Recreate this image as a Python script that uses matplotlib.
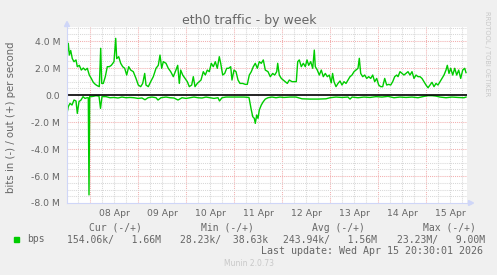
import matplotlib
matplotlib.use("Agg")
import matplotlib.pyplot as plt
from matplotlib.lines import Line2D
from matplotlib.patches import Rectangle, Polygon

# hours since 08 Apr 00:00, values in Mbit/s
out_hours = [-11.5, -10.85, -10.35, -9.65, -8.85, -8, -7, -6.35, -5.35, -4.35, -3.35, -2.35,
             -1.35, -0.35, 0.65, 1.65, 2.65, 3.65, 4.65, 5.35, 5.85, 6.65, 7.65, 8.65, 9.65,
             10.65, 12, 12.85, 13.35, 14.35, 15.35, 16.35, 17.35, 18.35, 19.35, 20.35, 21.65,
             23, 24.15, 25.35, 26.35, 27.35, 28, 29.15, 30.35, 31.65, 33, 34.15, 35, 35.85,
             36.65, 38, 39.15, 40.35, 41.65, 42.65, 43.85, 44.65, 45.35, 46.35, 47.5, 48.65,
             49.65, 50.85, 51.65, 52.5, 53.65, 54.65, 55.5, 56.65, 57.65, 58.65, 59.65, 60.65,
             61.65, 62.65, 63.65, 64.65, 65.35, 66.35, 67.35, 68.35, 69.35, 70.35, 71, 72, 73,
             74, 75, 76.35, 77.65, 78.65, 79.65, 80.65, 81.65, 82.65, 83.65, 84.65, 85.65,
             86.65, 87.65, 89, 90.15, 91.35, 92.35, 93.35, 93.85, 94.65, 95.65, 96.65, 97.65,
             98.65, 99.65, 101, 102.35, 103.15, 103.85, 104.65, 105.65, 106.65, 107.65, 108.5,
             109.35, 110.35, 111.35, 112.15, 112.65, 113.65, 114.65, 115.65, 116.65, 117.65,
             118.65, 119.65, 120.6, 121.3, 122, 123, 124, 125, 126, 127, 128, 129, 130, 131,
             132, 133, 134, 134.65, 135.35, 136.35, 137.35, 138.35, 139.35, 140.35, 141.35,
             142.35, 143.35, 144.35, 145.35, 146.35, 147.35, 148.35, 149.35, 150.35, 151.35,
             152.35, 153.35, 154, 155, 156, 157, 158, 159, 160, 161, 162, 163, 164, 165, 166,
             167, 168, 169, 170, 171, 172, 173, 174, 175, 176, 177, 178, 178.65, 179.5, 180.35,
             181.35, 182.35, 183.35, 184.35, 185.35, 186.35, 187.35, 188]
out_mbps = [2.96, 3.83, 2.96, 3.3, 2.7, 2.47, 2.6, 2.1, 2.2, 1.85, 2.0, 1.85,
            1.98, 1.48, 1.23, 0.94, 0.79, 0.69, 0.62, 3.46, 0.86, 0.86, 1.36, 2.1, 2.1,
            2.2, 2.47, 4.2, 2.7, 2.84, 2.35, 2.1, 1.98, 1.48, 2.1, 1.85, 1.73,
            1.23, 0.74, 0.62, 0.86, 1.6, 0.74, 0.62, 0.99, 1.36, 1.98, 2.2, 2.96, 1.98,
            2.47, 2.35, 1.98, 1.73, 1.36, 1.73, 2.2, 0.86, 1.85, 1.48, 1.23, 0.99,
            0.62, 0.74, 1.36, 0.62, 0.86, 0.99, 1.11, 1.73, 1.48, 1.85, 1.73, 2.35,
            2.1, 2.47, 1.98, 2.84, 2.35, 1.48, 1.6, 1.98, 1.98, 2.1, 1.11, 1.85, 1.73,
            1.11, 0.86, 0.86, 0.79, 0.79, 1.48, 1.73, 2.1, 2.35, 1.98, 2.47, 2.35,
            2.6, 1.85, 1.73, 1.36, 1.6, 1.48, 1.73, 2.35, 1.48, 1.23, 1.11, 0.99,
            0.86, 1.11, 0.99, 0.99, 0.99, 2.47, 2.6, 2.1, 2.35, 2.1, 2.6,
            2.2, 2.47, 1.98, 3.33, 2.1, 1.85, 1.48, 1.85, 1.36, 1.6,
            1.36, 1.48, 0.9, 1.6, 0.99, 0.62, 0.86, 1.04, 0.74, 0.99, 0.86, 1.11, 1.36, 1.48,
            1.73, 1.85, 1.98, 2.72, 1.6, 1.36, 1.48, 1.23, 1.36, 1.23, 1.48,
            0.99, 1.23, 0.74, 0.62, 0.62, 1.23, 0.74, 0.79, 0.74, 0.99,
            1.36, 1.48, 1.36, 1.73, 1.6, 1.48, 1.6, 1.73, 1.48, 1.73, 1.23, 1.48, 1.36, 1.36, 1.23,
            0.99, 0.74, 0.54, 0.74, 0.94, 0.62, 0.86, 0.74, 0.99, 1.23, 1.48, 1.85, 2.2, 1.6, 1.98,
            1.48, 1.98, 1.48, 1.85, 1.23, 1.85, 1.98, 1.66]

in_hours = [-11.5, -10.85, -10, -9, -8, -7, -6.35, -5.5, -4.5, -3.5, -2.5, -1.5, -0.85, -0.5,
            -0.15, 0.5, 1.5, 3, 4.5, 5.25, 6, 8, 10, 12, 14, 16, 18, 20, 22, 24, 26, 27.5, 29,
            31, 33, 34, 35.5, 38, 40, 42, 44, 46, 48, 50, 52, 54, 56, 58, 60, 62, 64, 64.75,
            66, 68, 71, 74, 77, 79.5, 80.5, 81.35, 82.15, 82.65, 83.35, 84, 84.65, 85.65,
            86.65, 87.65, 89, 91, 93, 95, 97, 100, 103, 106, 110, 114, 118, 120, 123, 126,
            129, 130, 131, 134, 137, 140, 143, 146, 149, 152, 155, 158, 161, 164, 167, 169,
            171, 173, 175, 178, 181, 184, 187, 188]
in_mbps = [-1.36, -0.86, -0.62, -0.74, -0.37, -0.44, -1.36, -0.49, -0.37, -0.12, -0.25, -0.2,
           -0.2, -7.4, -0.1, -0.12, -0.1, -0.05, -0.08, -0.99, -0.12, -0.12, -0.2, -0.18,
           -0.22, -0.15, -0.2, -0.18, -0.2, -0.25, -0.22, -0.35, -0.2, -0.15, -0.2, -0.37,
           -0.2, -0.15, -0.2, -0.22, -0.37, -0.2, -0.25, -0.2, -0.15, -0.2, -0.22, -0.15,
           -0.2, -0.25, -0.2, -0.44, -0.2, -0.15, -0.15, -0.15, -0.15, -0.18, -0.99, -1.6,
           -1.73, -2.1, -1.48, -1.73, -1.11, -0.74, -0.49, -0.3, -0.2, -0.15, -0.2, -0.15,
           -0.18, -0.15, -0.15, -0.28, -0.3, -0.3, -0.28, -0.2, -0.15, -0.18, -0.15, -0.3,
           -0.15, -0.2, -0.15, -0.18, -0.12, -0.15, -0.1, -0.2, -0.15, -0.18, -0.15, -0.2,
           -0.1, -0.05, -0.05, -0.08, -0.15, -0.2, -0.15, -0.18, -0.2, -0.15]

day_labels = ['08 Apr', '09 Apr', '10 Apr', '11 Apr', '12 Apr', '13 Apr', '14 Apr', '15 Apr']
y_ticks = [-8, -6, -4, -2, 0, 2, 4]
y_labels = ['-8.0 M', '-6.0 M', '-4.0 M', '-2.0 M', '0.0', '2.0 M', '4.0 M']

W, H = 497, 275
TXT = '#666666'
AXC = '#CFD6F8'

def fx(px):
    return px / W

def fy(py):
    return 1 - py / H

fig = plt.figure(figsize=(W / 100, H / 100), dpi=100, facecolor='#F0F0F0')
ax = fig.add_axes([fx(67), fy(203), 400 / W, 176 / H], facecolor='white')
ax.set_xlim(-11.5, 188.5)
ax.set_ylim(-8, 5.04)
for s in ax.spines.values():
    s.set_visible(False)

dots = (0, (1, 1))
# grid
for k in range(-2, 33):
    h = k * 6
    if -11.5 < h < 188.5:
        c = '#F2AFAF' if h % 24 == 0 else '#D8D8D8'
        ax.axvline(h, color=c, lw=0.75, ls=dots, zorder=1)
for k in range(-16, 11):
    v = k * 0.5
    if v > -8 and v != 0:
        c = '#F2AFAF' if v % 2 == 0 else '#D8D8D8'
        ax.axhline(v, color=c, lw=0.75, ls=dots, zorder=1)

ax.plot(out_hours, out_mbps, color='#00CC00', lw=1.0, zorder=3)
ax.plot(in_hours, in_mbps, color='#00CC00', lw=1.0, zorder=3)
ax.axhline(0, color='black', lw=1.2, zorder=4)

ax.set_yticks(y_ticks)
ax.set_yticklabels(y_labels)
ax.set_xticks([12 + 24 * i for i in range(len(day_labels))])
ax.set_xticklabels(day_labels)
ax.tick_params(length=0, labelsize=6.7, colors=TXT)
ax.tick_params(axis='y', pad=5)
ax.tick_params(axis='x', pad=4.5)

# axis lines with arrows
fig.add_artist(Line2D([fx(67), fx(67)], [fy(203), fy(24)], color=AXC, lw=0.8))
fig.add_artist(Line2D([fx(67), fx(470)], [fy(203), fy(203)], color=AXC, lw=0.8))
fig.add_artist(Polygon([(fx(64.5), fy(26.5)), (fx(69.5), fy(26.5)), (fx(67), fy(21.5))],
                       closed=True, color=AXC))
fig.add_artist(Polygon([(fx(468.5), fy(200.5)), (fx(468.5), fy(205.5)), (fx(473.5), fy(203))],
                       closed=True, color=AXC))

fig.text(fx(249), fy(24), 'eth0 traffic - by week', ha='center', va='baseline',
         fontsize=9, color=TXT)
fig.text(fx(11), fy(117), 'bits in (-) / out (+) per second', rotation=90,
         ha='center', va='center', fontsize=7.3, color=TXT)
fig.text(fx(487.5), fy(54), 'RRDTOOL / TOBI OETIKER', rotation=-90, ha='center',
         va='center', fontsize=4.8, color='#C8C8C8')

mono = dict(family='DejaVu Sans Mono', fontsize=7, color=TXT, va='center')
for x0, s in [(89, 'Cur (-/+)'), (201, 'Min (-/+)'), (312, 'Avg (-/+)'), (423, 'Max (-/+)')]:
    fig.text(fx(x0), fy(228), s, ha='left', **mono)
for x0, s in [(26.7, 'bps'), (66.7, '154.06k/   1.66M'), (180, '28.23k/  38.63k'),
              (283.3, '243.94k/   1.56M'), (396.7, '23.23M/   9.00M')]:
    fig.text(fx(x0), fy(239.5), s, ha='left', **mono)
fig.add_artist(Rectangle((fx(14), fy(242.3)), 5.3 / W, 5.6 / H, color='#00CC00'))
fig.text(fx(483), fy(251), 'Last update: Wed Apr 15 20:30:01 2026', ha='right',
         family='DejaVu Sans Mono', fontsize=7.2, color=TXT, va='center')
fig.text(fx(249), fy(264), 'Munin 2.0.73', ha='center', va='center', fontsize=5.5,
         color='#C8C8C8')

fig.savefig('out.png', dpi=100, facecolor=fig.get_facecolor())
